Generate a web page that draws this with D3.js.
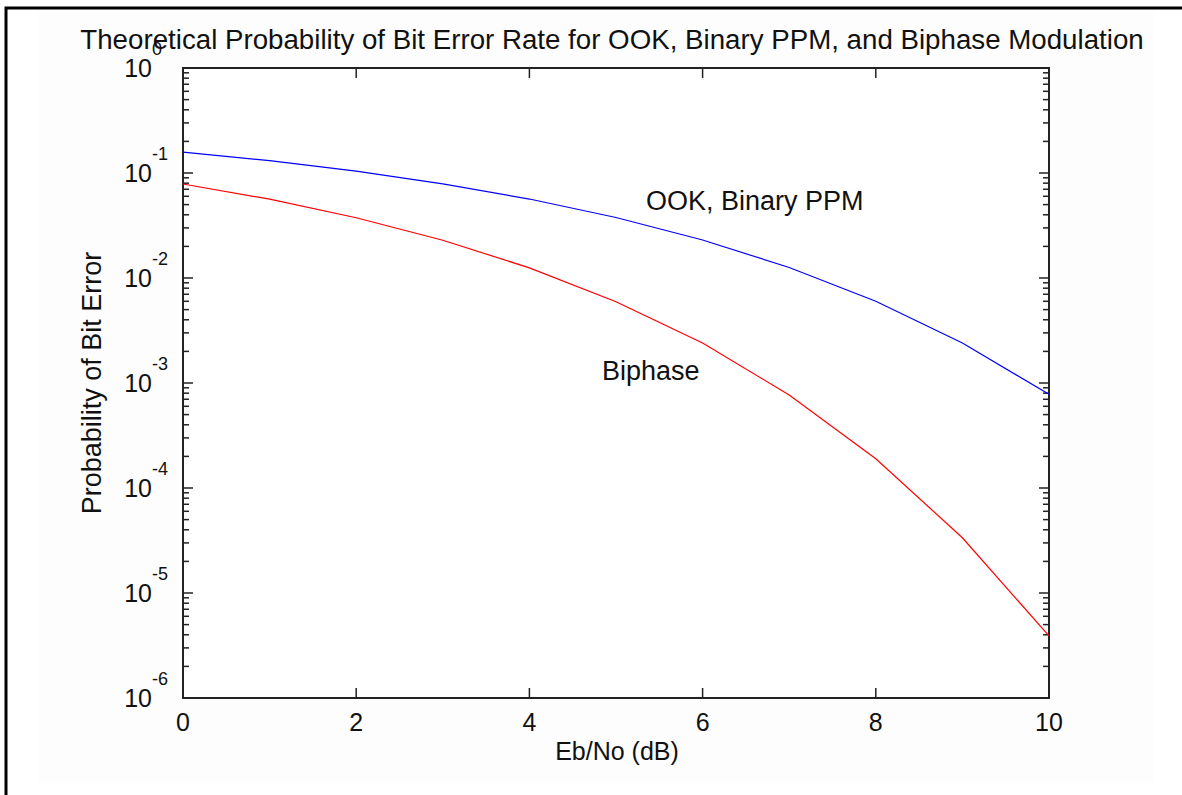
<!DOCTYPE html>
<html>
<head>
<meta charset="utf-8">
<script src="https://cdn.jsdelivr.net/npm/d3@7"></script>
<style>
  body { margin: 0; background: #fff; }
  text { font-family: "Liberation Sans", Arial, sans-serif; fill: #111; }
</style>
</head>
<body>
<svg id="chart" width="1182" height="795"></svg>
<script>
// Eb/No in dB
var ebno = [0, 1, 2, 3, 4, 5, 6, 7, 8, 9, 10];
// OOK, Binary PPM
var ookBer = [0.158, 0.131, 0.104, 0.0789, 0.0565, 0.0377, 0.023, 0.0126, 0.006, 0.0024, 0.00078];
// Biphase
var biphaseBer = [0.0786, 0.0563, 0.0375, 0.0229, 0.0125, 0.00595, 0.0024, 0.00077, 0.00019, 0.0000336, 0.0000039];
var xTicks = [0, 2, 4, 6, 8, 10];
var yExponents = [0, -1, -2, -3, -4, -5, -6];

var svg = d3.select('#chart');
var margin = { top: 68, left: 183, right: 1049, bottom: 698 };

// figure background + frame
svg.append('rect').attr('x', 38).attr('y', 9).attr('width', 1115).attr('height', 774).attr('fill', '#fdfdfd');
svg.append('path').attr('d', 'M6,795V8H1182').attr('fill', 'none').attr('stroke', '#000').attr('stroke-width', 3);
svg.append('rect').attr('x', margin.left).attr('y', margin.top)
  .attr('width', margin.right - margin.left).attr('height', margin.bottom - margin.top).attr('fill', '#fff');

var x = d3.scaleLinear().domain([0, 10]).range([margin.left, margin.right]);
var y = d3.scaleLog().domain([1e-6, 1]).range([margin.bottom, margin.top]);

var ink = '#222';
var g = svg.append('g');

// x ticks, inward at bottom and top
xTicks.forEach(function (t) {
  g.append('line').attr('x1', x(t)).attr('x2', x(t)).attr('y1', margin.bottom).attr('y2', margin.bottom - 10).attr('stroke', ink).attr('stroke-width', 1.5);
  g.append('line').attr('x1', x(t)).attr('x2', x(t)).attr('y1', margin.top).attr('y2', margin.top + 10).attr('stroke', ink).attr('stroke-width', 1.5);
  g.append('text').attr('x', x(t)).attr('y', 731).attr('text-anchor', 'middle').attr('font-size', 25).text(t);
});

// y ticks: decades and minor ticks
yExponents.forEach(function (e) {
  var v = Math.pow(10, e);
  [margin.left, margin.right].forEach(function (x0, i) {
    var dir = i === 0 ? 1 : -1;
    g.append('line').attr('x1', x0).attr('x2', x0 + dir * 10).attr('y1', y(v)).attr('y2', y(v)).attr('stroke', ink).attr('stroke-width', 1.5);
    if (e > -6) {
      for (var m = 2; m <= 9; m++) {
        var mv = v / 10 * m;
        g.append('line').attr('x1', x0).attr('x2', x0 + dir * 6).attr('y1', y(mv)).attr('y2', y(mv)).attr('stroke', ink).attr('stroke-width', 1.5);
      }
    }
  });
  g.append('text').attr('x', 152).attr('y', y(v) + 9).attr('text-anchor', 'end').attr('font-size', 25).text('10');
  g.append('text').attr('x', 152).attr('y', y(v) - 13).attr('font-size', 18).text(e);
});

// axes box
g.append('rect').attr('x', margin.left).attr('y', margin.top)
  .attr('width', margin.right - margin.left).attr('height', margin.bottom - margin.top)
  .attr('fill', 'none').attr('stroke', ink).attr('stroke-width', 2);

var line = d3.line().x(function (d) { return x(d[0]); }).y(function (d) { return y(d[1]); });

svg.append('path').datum(d3.zip(ebno, ookBer)).attr('d', line)
  .attr('fill', 'none').attr('stroke', '#0000ff').attr('stroke-width', 1.2);
svg.append('path').datum(d3.zip(ebno, biphaseBer)).attr('d', line)
  .attr('fill', 'none').attr('stroke', '#ff0000').attr('stroke-width', 1.2);

// annotations
svg.append('text').attr('x', 646).attr('y', 210).attr('font-size', 27).text('OOK, Binary PPM');
svg.append('text').attr('x', 602).attr('y', 380).attr('font-size', 27).text('Biphase');

// title and axis labels
svg.append('text').attr('x', 612).attr('y', 49).attr('text-anchor', 'middle').attr('font-size', 27.7)
  .text('Theoretical Probability of Bit Error Rate for OOK, Binary PPM, and Biphase Modulation');
svg.append('text').attr('x', 617).attr('y', 760).attr('text-anchor', 'middle').attr('font-size', 25).text('Eb/No (dB)');
svg.append('text').attr('transform', 'translate(101,383) rotate(-90)').attr('text-anchor', 'middle').attr('font-size', 27)
  .text('Probability of Bit Error');
</script>
</body>
</html>
